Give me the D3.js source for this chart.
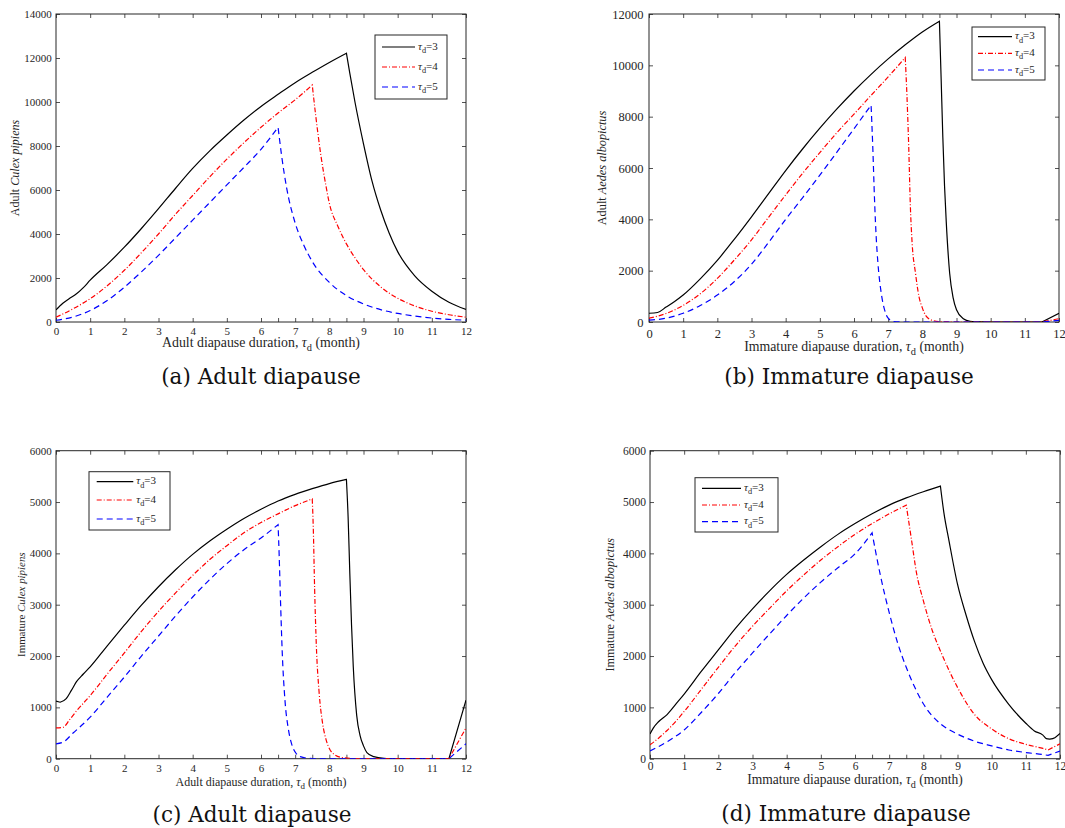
<!DOCTYPE html>
<html>
<head>
<meta charset="utf-8">
<script src="https://cdn.jsdelivr.net/npm/d3@7"></script>
<style>
  body { margin: 0; background: #fff; }
  svg { display: block; }
  .serif { font-family: 'Liberation Serif', 'Times New Roman', Times, serif; }
  .cap { font-family: 'DejaVu Serif', serif; }
</style>
</head>
<body>
<div id="chart"></div>
<script>
// values, [duration, population]
var a3 = [[0,550],[0.2,850],[0.4,1080],[0.6,1280],[0.8,1560],[1,1900],[1.5,2620],[2,3400],[2.5,4250],[3,5150],[3.5,6080],[4,6980],[4.5,7780],[5,8500],[5.5,9180],[6,9800],[6.5,10350],[7,10880],[7.5,11350],[8,11800],[8.5,12220],[8.6,11300],[8.75,10000],[9,8100],[9.25,6400],[9.5,5100],[9.75,4050],[10,3200],[10.5,2100],[11,1400],[11.5,900],[12,570]];
var a4 = [[0,220],[0.25,400],[0.5,600],[0.75,820],[1,1060],[1.5,1650],[2,2350],[2.5,3150],[3,4000],[3.5,4900],[4,5750],[4.5,6600],[5,7400],[5.5,8150],[6,8850],[6.5,9500],[7,10100],[7.5,10770],[7.6,9400],[7.75,7600],[7.9,6200],[8,5400],[8.25,4350],[8.5,3550],[8.75,2920],[9,2380],[9.5,1600],[10,1080],[10.5,730],[11,490],[11.5,330],[12,220]];
var a5 = [[0,80],[0.5,230],[1,520],[1.5,980],[2,1580],[2.5,2280],[3,3030],[3.5,3830],[4,4630],[4.5,5430],[5,6230],[5.5,7030],[6,7850],[6.5,8850],[6.6,7600],[6.75,6100],[7,4500],[7.25,3500],[7.5,2750],[8,1800],[8.5,1200],[9,820],[9.5,560],[10,390],[10.5,270],[11,180],[11.5,120],[12,80]];

var b3 = [[0,340],[0.25,370],[0.5,580],[0.75,800],[1,1050],[1.5,1680],[2,2400],[2.5,3230],[3,4100],[3.5,5000],[4,5900],[4.5,6750],[5,7550],[5.5,8300],[6,9000],[6.5,9650],[7,10250],[7.5,10800],[8,11300],[8.5,11720],[8.55,9500],[8.6,7200],[8.65,5300],[8.7,3900],[8.8,1900],[8.9,950],[9,480],[9.2,130],[9.4,30],[9.7,5],[10,0],[11.5,0],[12,340]];
var b4 = [[0,150],[0.5,330],[1,650],[1.5,1100],[2,1700],[2.5,2420],[3,3200],[3.5,4080],[4,4950],[4.5,5800],[5,6600],[5.5,7380],[6,8100],[6.5,8830],[7,9550],[7.5,10300],[7.55,8800],[7.6,6900],[7.65,4500],[7.7,3100],[7.8,1900],[7.9,1000],[8,550],[8.1,250],[8.3,60],[8.6,5],[9,0],[11.5,0],[12,130]];
var b5 = [[0,70],[0.5,150],[1,340],[1.5,640],[2,1050],[2.5,1580],[3,2250],[3.5,3100],[4,4000],[4.5,4850],[5,5720],[5.5,6620],[6,7530],[6.5,8450],[6.55,6800],[6.6,4800],[6.65,3300],[6.7,2300],[6.8,1100],[6.9,450],[7,150],[7.15,20],[7.4,0],[11.5,0],[12,60]];

var c3 = [[0,1120],[0.12,1100],[0.3,1170],[0.45,1330],[0.6,1500],[0.8,1650],[1,1790],[1.5,2200],[2,2600],[2.5,2990],[3,3350],[3.5,3680],[4,3980],[4.5,4240],[5,4470],[5.5,4680],[6,4860],[6.5,5020],[7,5150],[7.5,5260],[8,5360],[8.5,5440],[8.55,4700],[8.6,3600],[8.65,2600],[8.7,1800],[8.8,850],[8.9,450],[9,250],[9.1,120],[9.3,40],[9.6,8],[10,0],[11.5,0],[12,1140]];
var c4 = [[0,600],[0.2,610],[0.4,760],[0.6,930],[0.8,1080],[1,1230],[1.5,1650],[2,2060],[2.5,2480],[3,2870],[3.5,3230],[4,3570],[4.5,3880],[5,4150],[5.5,4400],[6,4600],[6.5,4770],[7,4930],[7.5,5060],[7.53,4500],[7.57,3300],[7.62,2200],[7.7,1300],[7.8,700],[7.9,380],[8,200],[8.15,80],[8.4,20],[8.8,0],[11.5,0],[12,600]];
var c5 = [[0,290],[0.2,320],[0.5,500],[1,810],[1.5,1200],[2,1590],[2.5,2000],[3,2390],[3.5,2780],[4,3150],[4.5,3490],[5,3800],[5.5,4070],[6,4300],[6.5,4560],[6.53,4000],[6.57,3100],[6.62,2100],[6.7,1150],[6.8,580],[6.9,280],[7,130],[7.15,40],[7.4,8],[7.7,0],[11.5,0],[12,290]];

var d3s = [[0,480],[0.1,600],[0.25,720],[0.5,860],[0.75,1060],[1,1260],[1.5,1700],[2,2120],[2.5,2540],[3,2920],[3.5,3270],[4,3590],[4.5,3870],[5,4130],[5.5,4370],[6,4580],[6.5,4770],[7,4940],[7.5,5080],[8,5200],[8.5,5310],[8.6,4800],[8.75,4250],[9,3400],[9.25,2800],[9.5,2280],[9.75,1860],[10,1540],[10.5,1060],[11,690],[11.25,540],[11.5,460],[11.6,390],[11.7,380],[11.85,410],[12,490]];
var d4 = [[0,270],[0.25,400],[0.5,550],[1,920],[1.5,1350],[2,1780],[2.5,2200],[3,2580],[3.5,2930],[4,3270],[4.5,3580],[5,3870],[5.5,4130],[6,4370],[6.5,4580],[7,4770],[7.5,4940],[7.65,4280],[7.8,3620],[8,3080],[8.25,2520],[8.5,2100],[9,1390],[9.5,860],[10,580],[10.5,390],[11,280],[11.5,200],[11.65,170],[12,290]];
var d5 = [[0,150],[0.5,330],[1,560],[1.5,900],[2,1270],[2.5,1680],[3,2060],[3.5,2430],[4,2790],[4.5,3130],[5,3440],[5.5,3720],[6,3990],[6.25,4180],[6.5,4400],[6.75,3550],[7,2850],[7.25,2250],[7.5,1780],[7.75,1390],[8,1070],[8.5,680],[9,480],[9.5,340],[10,250],[10.5,170],[11,120],[11.5,80],[11.65,65],[12,150]];

var tauValues = ["3", "4", "5"];
var xTicks = d3.range(0, 13);
var xExtraTicks = [6.5, 7.5, 8.5];
var yTicksA = d3.range(0, 14001, 2000);
var yTicksB = d3.range(0, 12001, 2000);
var yTicksC = d3.range(0, 6001, 1000);
var yTicksD = d3.range(0, 6001, 1000);

var colors = ["#000000", "#ff0000", "#0000ff"];
var dashes = [null, "5,2,1,2", "6,4"];
var axisColor = "#262626";

var panels = [
  { series: [a3, a4, a5], yMax: 14000, yTicks: yTicksA, left: 56, top: 14,
    stage: "Adult", species: "Culex pipiens", xStage: "Adult",
    caption: "(a) Adult diapause", capX: 261, capY: 384,
    tickFont: 11, tickY: 13, tickPad: 4.3, xLabW: 198, xLabY: 347, yLabW: 97, yLabX: 19,
    legend: { x: 375, y: 35, w: 72, h: 64, l1: 382, l2: 415, rows: [47, 67, 87] } },
  { series: [b3, b4, b5], yMax: 12000, yTicks: yTicksB, left: 649, top: 14,
    stage: "Adult", species: "Aedes albopictus", xStage: "Immature",
    caption: "(b) Immature diapause", capX: 849, capY: 384,
    tickFont: 12.5, tickY: 15.5, tickPad: 5.4, xLabW: 220, xLabY: 351, yLabW: 115, yLabX: 606,
    legend: { x: 972, y: 27, w: 73, h: 53, l1: 978, l2: 1012, rows: [36.7, 53.3, 70] } },
  { series: [c3, c4, c5], yMax: 6000, yTicks: yTicksC, left: 56, top: 450.7,
    stage: "Immature", species: "Culex pipiens", xStage: "Adult",
    caption: "(c) Adult diapause", capX: 252, capY: 822,
    tickFont: 11, tickY: 13.3, tickPad: 4.3, xLabW: 171, xLabY: 785.7, yLabW: 105, yLabX: 25,
    legend: { x: 89, y: 471.7, w: 81, h: 58.3, l1: 96.7, l2: 133.3, rows: [481.7, 500, 519] } },
  { series: [d3s, d4, d5], yMax: 6000, yTicks: yTicksD, left: 650, top: 450.7,
    stage: "Immature", species: "Aedes albopictus", xStage: "Immature",
    caption: "(d) Immature diapause", capX: 846, capY: 821,
    tickFont: 11.5, tickY: 11.3, tickPad: 4, xLabW: 216, xLabY: 784, yLabW: 134, yLabX: 614,
    legend: { x: 695, y: 477.7, w: 83, h: 54.3, l1: 702, l2: 741, rows: [488.3, 505, 521.7] } }
];

var svgWidth = 1065, svgHeight = 828;
var plotW = 410, plotH = 308;

var svg = d3.select("#chart").append("svg")
  .attr("width", svgWidth)
  .attr("height", svgHeight)
  .style("background", "#fff");

// split a series at its corners so the monotone curve keeps the sharp peaks
function runs(pts) {
  var out = [], cur = [pts[0]];
  for (var i = 1; i < pts.length; i++) {
    cur.push(pts[i]);
    if (i < pts.length - 1) {
      var s0 = Math.sign(pts[i][1] - pts[i - 1][1]);
      var s1 = Math.sign(pts[i + 1][1] - pts[i][1]);
      if (s0 !== s1) { out.push(cur); cur = [pts[i]]; }
    }
  }
  out.push(cur);
  return out;
}

function fitWidth(sel, width) {
  var fs = parseFloat(sel.style("font-size"));
  var w = sel.node().getBBox().width;
  if (w > 0) sel.style("font-size", (fs * width / w) + "px");
}

function addTau(textSel, after) {
  textSel.append("tspan").style("font-style", "italic").text("\u03c4");
  textSel.append("tspan").style("font-size", "75%").attr("dy", "0.4em").text("d");
  textSel.append("tspan").attr("dy", "-0.3em").text(after);
}

panels.forEach(function(p, pi) {
  var x = d3.scaleLinear().domain([0, 12]).range([0, plotW]);
  var y = d3.scaleLinear().domain([0, p.yMax]).range([plotH, 0]);

  var g = svg.append("g").attr("transform", "translate(" + p.left + "," + p.top + ")");

  g.append("clipPath").attr("id", "clip" + pi)
    .append("rect").attr("width", plotW).attr("height", plotH);

  // ticks, pointing inward on all four sides
  var allX = xTicks.concat(xExtraTicks);
  var bottom = g.append("g").attr("transform", "translate(0," + plotH + ")")
    .call(d3.axisBottom(x).tickValues(allX).tickSizeInner(-4).tickSizeOuter(0)
      .tickFormat(function(d) { return Number.isInteger(d) ? d : ""; }));
  bottom.selectAll("text")
    .attr("y", p.tickY).attr("dy", null);

  g.append("g")
    .call(d3.axisTop(x).tickValues(allX).tickSizeInner(-4).tickSizeOuter(0).tickFormat(""));

  var left = g.append("g")
    .call(d3.axisLeft(y).tickValues(p.yTicks).tickSizeInner(-4).tickSizeOuter(0).tickFormat(d3.format("d")));
  left.selectAll("text").attr("x", -p.tickPad);

  g.append("g").attr("transform", "translate(" + plotW + ",0)")
    .call(d3.axisRight(y).tickValues(p.yTicks).tickSizeInner(-4).tickSizeOuter(0).tickFormat(""));

  g.selectAll(".domain").remove();
  g.selectAll("g").attr("font-family", null).attr("font-size", null);
  g.selectAll(".tick line").attr("stroke", axisColor).attr("stroke-width", 0.8);
  g.selectAll(".tick text")
    .attr("class", "serif")
    .attr("fill", axisColor)
    .style("font-size", p.tickFont + "px");

  g.append("rect")
    .attr("width", plotW).attr("height", plotH)
    .attr("fill", "none").attr("stroke", axisColor).attr("stroke-width", 1);

  // curves
  var line = d3.line()
    .x(function(d) { return x(d[0]); })
    .y(function(d) { return y(d[1]); })
    .curve(d3.curveMonotoneX);

  var curves = g.append("g").attr("clip-path", "url(#clip" + pi + ")");
  p.series.forEach(function(s, si) {
    var d = runs(s).map(function(r, i) {
      var str = line(r);
      return i ? str.replace(/^M/, "L") : str;
    }).join("");
    curves.append("path")
      .attr("d", d)
      .attr("fill", "none")
      .attr("stroke", colors[si])
      .attr("stroke-width", 1.2)
      .attr("stroke-dasharray", dashes[si]);
  });

  // x label
  var xl = svg.append("text")
    .attr("class", "serif")
    .attr("x", p.left + plotW / 2).attr("y", p.xLabY)
    .attr("text-anchor", "middle")
    .attr("fill", axisColor)
    .style("font-size", "13px");
  xl.append("tspan").text(p.xStage + " diapause duration, ");
  addTau(xl, " (month)");
  fitWidth(xl, p.xLabW);

  // y label
  var cy = p.top + plotH / 2;
  var yl = svg.append("text")
    .attr("class", "serif")
    .attr("transform", "translate(" + p.yLabX + "," + cy + ") rotate(-90)")
    .attr("text-anchor", "middle")
    .attr("fill", axisColor)
    .style("font-size", "12px");
  yl.append("tspan").text(p.stage + " ");
  yl.append("tspan").style("font-style", "italic").text(p.species);
  fitWidth(yl, p.yLabW);

  // legend
  var L = p.legend;
  svg.append("rect")
    .attr("x", L.x).attr("y", L.y).attr("width", L.w).attr("height", L.h)
    .attr("fill", "#fff").attr("stroke", axisColor).attr("stroke-width", 1);
  tauValues.forEach(function(v, i) {
    svg.append("line")
      .attr("x1", L.l1).attr("x2", L.l2)
      .attr("y1", L.rows[i]).attr("y2", L.rows[i])
      .attr("stroke", colors[i]).attr("stroke-width", 1.2)
      .attr("stroke-dasharray", dashes[i]);
    var t = svg.append("text")
      .attr("class", "serif")
      .attr("x", L.l2 + 3).attr("y", L.rows[i] + 2.5)
      .attr("fill", axisColor)
      .style("font-size", "11px");
    addTau(t, "=" + v);
  });

  // sub-figure caption
  svg.append("text")
    .attr("class", "cap")
    .attr("x", p.capX).attr("y", p.capY)
    .attr("text-anchor", "middle")
    .attr("fill", "#111")
    .style("font-size", "21.5px")
    .text(p.caption);
});
</script>
</body>
</html>
